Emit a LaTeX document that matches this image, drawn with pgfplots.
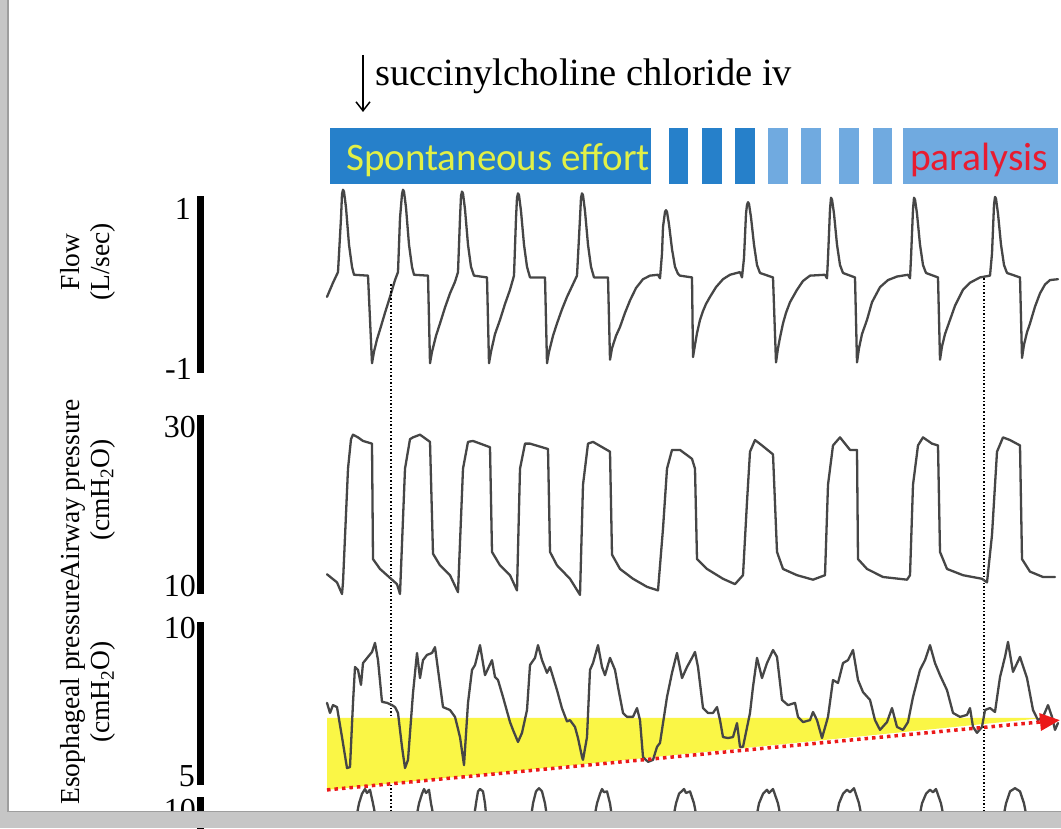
\documentclass[border=0pt]{standalone}
\usepackage{fontspec}
\setmainfont{Liberation Serif}
\newfontfamily\carlito{Carlito}
\usepackage{pgfplots}
\pgfplotsset{compat=1.18}
\usetikzlibrary{arrows.meta}

\definecolor{darkblue}{RGB}{38,128,202}
\definecolor{lightblue}{RGB}{112,170,224}
\definecolor{spontyellow}{RGB}{226,240,70}
\definecolor{parared}{RGB}{232,28,48}
\definecolor{hlyellow}{RGB}{250,246,70}
\definecolor{arrowred}{RGB}{235,25,25}
\definecolor{tracegray}{RGB}{70,70,70}
\definecolor{framegray}{RGB}{198,198,198}

\pgfplotsset{
  panel/.style={scale only axis, anchor=south west, width=861pt,
    xmin=200, xmax=1061, axis x line=none, axis y line=left,
    y axis line style={line width=7pt,-}, xtick=\empty, ytick=\empty, clip=false},
  trace/.style={color=tracegray, line width=2.3pt, line join=round, line cap=round, mark=none},
}

\begin{document}
\begin{tikzpicture}[x=1pt,y=1pt]
\useasboundingbox (0,0) rectangle (1061,828);
\clip (0,0) rectangle (1061,828);
\fill[white] (0,0) rectangle (1061,828);

% drug marker
\draw[line width=1.5pt, -{Straight Barb[length=9pt,width=14pt]}] (363,773) -- (363,716);
\node[anchor=base west, inner sep=0, font=\fontsize{38.5}{40}\selectfont] at (375,742) {succinylcholine chloride iv};

% phase bar
\fill[darkblue] (330,644) rectangle (651,700);
\fill[darkblue] (669,644) rectangle (688,700);
\fill[darkblue] (702,644) rectangle (722,700);
\fill[darkblue] (735,644) rectangle (755,700);
\fill[lightblue] (768,644) rectangle (788,700);
\fill[lightblue] (801,644) rectangle (821,700);
\fill[lightblue] (839,644) rectangle (859,700);
\fill[lightblue] (873,644) rectangle (892,700);
\fill[lightblue] (903,644) rectangle (1058,700);
\node[anchor=base west, inner sep=0, text=spontyellow, font=\carlito\fontsize{39}{40}\selectfont] at (346,657) {Spontaneous effort};
\node[anchor=base west, inner sep=0, text=parared, font=\carlito\fontsize{39.5}{40}\selectfont] at (910,657) {paralysis};

% flow
\begin{axis}[panel, at={(200pt,455pt)}, height=177pt, ymin=-1, ymax=1]
\addplot[trace] coordinates {
(327,-0.14) (333,0.02) (338,0.14) (341,0.75) (342,1.02) (343,1.07) (344,1.05) (346,0.87) (349,0.45) (352,0.2) (354,0.11) (368,0.10) (372,-0.89) (374,-0.76) (377,-0.62) (380,-0.51) (385,-0.32) (390,-0.14) (395,0.05) (398,0.14)
(400,0.75) (402,1.02) (403,1.07) (404,1.05) (406,0.87) (409,0.45) (412,0.2) (414,0.11) (428,0.10) (430,-0.89) (432,-0.76) (436,-0.58) (440,-0.44) (445,-0.26) (450,-0.10) (455,0.03) (458,0.14)
(460,0.75) (461,1.0) (462,1.05) (463,1.03) (465,0.85) (468,0.45) (471,0.2) (474,0.10) (487,0.08) (489,-0.89) (491,-0.76) (495,-0.56) (500,-0.40) (505,-0.22) (510,-0.06) (514,0.10)
(516,0.75) (517,0.98) (518,1.03) (519,1.01) (521,0.83) (524,0.45) (527,0.2) (530,0.08) (545,0.08) (547,-0.89) (549,-0.76) (553,-0.58) (557,-0.44) (562,-0.28) (567,-0.14) (572,-0.02) (577,0.10)
(580,0.75) (581,0.98) (582,1.03) (583,1.01) (585,0.83) (588,0.45) (591,0.2) (594,0.08) (608,0.08) (610,-0.85) (612,-0.72) (616,-0.58) (620,-0.48) (625,-0.32) (630,-0.18) (636,-0.04) (643,0.06) (650,0.10) (658,0.11) (660,0.07) (662,0.35)
(663,0.65) (665,0.82) (666,0.84) (667,0.82) (669,0.68) (672,0.40) (675,0.2) (678,0.12) (680,0.10) (692,0.08) (693,-0.82) (695,-0.68) (697,-0.55) (700,-0.40) (703,-0.30) (706,-0.22) (710,-0.14) (716,-0.03) (723,0.06) (730,0.11) (740,0.14) (742,0.08) (744,0.30)
(746,0.80) (747,0.90) (748,0.93) (749,0.91) (751,0.76) (754,0.45) (757,0.22) (760,0.13) (773,0.08) (776,-0.88) (778,-0.72) (780,-0.60) (783,-0.44) (786,-0.32) (790,-0.20) (797,-0.06) (803,0.04) (810,0.10) (825,0.11) (827,0.07) (828,0.30)
(830,0.85) (831,0.98) (832,0.96) (834,0.8) (837,0.45) (840,0.22) (843,0.13) (855,0.08) (857,-0.88) (859,-0.72) (862,-0.56) (867,-0.40) (872,-0.20) (880,-0.03) (888,0.05) (897,0.09) (908,0.11) (910,0.07) (911,0.30)
(913,0.85) (914,0.98) (915,0.96) (917,0.8) (920,0.45) (923,0.22) (926,0.13) (938,0.08) (940,-0.85) (942,-0.70) (945,-0.56) (950,-0.40) (955,-0.24) (963,-0.06) (970,0.02) (980,0.08) (990,0.10) (992,0.35)
(994,0.9) (995,0.99) (996,0.97) (998,0.8) (1001,0.45) (1004,0.22) (1007,0.13) (1020,0.08) (1022,-0.83) (1024,-0.68) (1027,-0.54) (1030,-0.44) (1035,-0.25) (1040,-0.10) (1045,0.0) (1050,0.05) (1058,0.06)
};
\addplot[black, line width=1.5pt, dash pattern=on 1.5pt off 2pt] coordinates {(391,0.0) (391,-6.0)};
\addplot[black, line width=1.5pt, dash pattern=on 1.5pt off 2pt] coordinates {(984,0.07) (984,-6.0)};
\end{axis}

% airway pressure
\begin{axis}[panel, at={(200pt,234pt)}, height=179pt, ymin=10, ymax=30]
\addplot[trace] coordinates {
(327,12.2) (337,11.3) (342,10.0) (343,11.3) (348,24.0) (351,27.3) (353,27.8) (358,27.5) (363,27.1) (372,26.8) (373,13.9) (380,12.8) (387,12.1) (397,11.1) (400,10.0)
(405,24.0) (410,27.3) (413,27.5) (420,27.8) (430,27.0) (433,14.5) (440,13.2) (450,12.1) (458,10.2)
(463,24.0) (468,27.0) (473,27.1) (490,26.4) (492,14.7) (500,13.2) (510,12.1) (517,10.4)
(520,24.0) (525,26.8) (530,26.8) (548,26.2) (550,14.7) (557,13.2) (570,11.7) (580,9.9)
(583,22.2) (588,26.8) (593,27.0) (610,25.9) (612,14.4) (620,12.8) (633,11.7) (647,10.8) (658,10.4)
(663,17.3) (667,24.0) (672,26.1) (680,26.1) (692,25.1) (695,24.0) (697,13.9) (707,12.8) (723,11.7) (735,11.1) (743,12.1)
(747,20.3) (750,25.9) (755,27.2) (762,26.6) (773,25.6) (777,14.7) (783,12.8) (797,12.1) (813,11.6) (825,12.1)
(828,22.2) (833,26.6) (840,27.5) (850,26.1) (857,26.1) (858,13.9) (867,12.8) (883,11.9) (907,11.6) (910,12.1)
(913,22.2) (918,26.6) (923,27.5) (932,26.8) (938,26.6) (940,14.7) (947,12.8) (963,12.1) (982,11.7) (987,11.3)
(992,16.6) (997,25.9) (1003,27.5) (1010,27.2) (1020,26.6) (1022,13.9) (1030,12.5) (1043,11.9) (1055,11.9)
};
\end{axis}

% esophageal pressure
\begin{axis}[panel, at={(200pt,43pt)}, height=163pt, ymin=5, ymax=10]
\addplot[fill=hlyellow, draw=none] coordinates {(327,7.06) (1045,7.06) (327,4.85)};
\addplot[trace] coordinates {
(327,7.52) (330,7.21) (333,7.45) (337,7.39) (342,6.47) (347,5.52) (350,5.55) (353,7.52) (355,8.62) (358,8.53) (361,8.07) (363,8.74) (368,8.93) (372,9.08) (375,9.36) (378,8.83) (382,7.55) (387,7.52) (392,7.45) (395,7.39) (398,7.21)
(402,6.17) (405,5.52) (408,5.77) (413,7.82) (417,9.05) (420,8.28) (423,8.83) (427,8.99) (432,9.05) (435,9.23) (437,8.77) (443,7.39) (450,7.30) (455,7.09) (460,6.47)
(464,5.61) (468,7.52) (472,8.53) (475,8.68) (480,9.29) (485,8.37) (492,8.83) (495,8.31) (498,8.22) (503,7.70) (510,6.93) (513,6.69) (518,6.32) (522,6.60) (527,7.30)
(530,8.68) (535,8.90) (538,9.29) (542,8.83) (547,8.44) (550,8.62) (557,7.91) (562,7.35) (567,6.95) (570,6.99) (575,6.78) (578,6.44) (582,5.86) (583,5.77) (587,6.47)
(590,8.53) (593,8.74) (598,9.29) (602,8.62) (605,8.37) (610,8.90) (615,8.53) (618,8.01) (623,7.21) (627,7.09) (633,7.09) (637,7.36) (640,6.99) (643,5.86) (648,5.71) (653,5.77) (657,6.17) (660,6.29)
(667,7.70) (672,8.44) (677,9.05) (682,8.28) (687,8.62) (692,8.90) (695,9.08) (698,8.62) (703,7.36) (708,7.21) (713,7.21) (717,7.39) (720,6.99) (723,6.47) (728,6.44) (733,6.47) (737,6.90) (740,6.17) (743,6.17)
(750,7.21) (753,8.01) (757,8.90) (762,8.28) (767,8.74) (773,9.14) (777,8.93) (782,7.61) (788,7.45) (795,7.52) (798,7.09) (803,6.93) (810,6.99)
(813,7.24) (817,6.99) (822,6.44) (828,7.09) (833,8.22) (838,8.13) (843,8.74) (848,8.83) (853,9.14) (858,8.22) (863,7.85) (870,7.61) (875,6.99) (880,6.69) (887,6.93) (892,7.36) (897,6.78) (903,6.69) (908,6.93)
(913,7.70) (920,8.53) (925,8.83) (930,9.29) (935,8.74) (940,8.37) (947,7.91) (953,7.21) (960,7.09) (967,7.15) (970,7.36) (973,6.78) (977,6.60) (982,6.78) (985,7.30) (990,7.36) (995,7.24)
(1000,8.31) (1005,8.93) (1008,9.39) (1013,8.47) (1020,8.93) (1027,8.28) (1033,7.30) (1038,6.99) (1043,7.09) (1048,7.45) (1052,7.09) (1055,6.69) (1058,6.90)
};
\addplot[arrowred, line width=3.5pt, dash pattern=on 3.5pt off 4pt, -{Triangle[length=20pt,width=17pt]}] coordinates {(327,4.85) (1060,6.99)};
\end{axis}

% fourth channel, mostly hidden by the frame
\begin{axis}[panel, at={(200pt,-1pt)}, height=32pt, ymin=8, ymax=10]
\addplot[trace] coordinates {
(327,8.3) (355,8.3) (359,9.6) (362,10.2) (365,10.5) (367,10.25) (370,10.45) (373,9.6) (377,8.3)
(415,8.3) (419,9.6) (422,10.2) (424,10.5) (426,10.25) (429,10.45) (431,9.6) (435,8.3)
(473,8.3) (476,9.6) (478,10.35) (480,10.5) (483,10.35) (485,9.6) (487,8.3)
(530,8.3) (533,9.6) (536,10.35) (539,10.55) (542,10.35) (545,9.6) (548,8.3)
(593,8.3) (597,9.6) (600,10.2) (602,10.5) (604,10.3) (607,10.35) (610,9.6) (613,8.3)
(672,8.3) (676,9.6) (679,10.2) (684,10.5) (686,10.25) (690,10.35) (694,9.6) (698,8.3)
(755,8.3) (759,9.6) (763,10.2) (767,10.45) (769,10.25) (773,10.5) (778,9.6) (782,8.3)
(835,8.3) (839,9.6) (843,10.2) (847,10.45) (850,10.3) (854,10.55) (859,9.6) (863,8.3)
(918,8.3) (922,9.6) (926,10.2) (930,10.45) (933,10.3) (936,10.5) (941,9.6) (945,8.3)
(1002,8.3) (1006,9.6) (1010,10.35) (1015,10.55) (1020,10.35) (1024,9.6) (1028,8.3) (1058,8.3)
};
\end{axis}

% scale labels
\begin{scope}[every node/.style={inner sep=0, font=\fontsize{32}{34}\selectfont}]
\node[anchor=north east] at (191,630) {1};
\node[anchor=south east] at (192,448) {-1};
\node[anchor=north east] at (196,412) {30};
\node[anchor=south east] at (196,231) {10};
\node[anchor=north east] at (196,211) {10};
\node[anchor=south east] at (195,41) {5};
\node[anchor=north east] at (196,29) {10};
\end{scope}

\begin{scope}[every node/.style={inner sep=0, rotate=90, align=center, font=\fontsize{27.5}{30}\selectfont}]
\node at (88,566) {Flow\\(L/sec)};
\node at (88,338) {Airway pressure\\(cmH\textsubscript{2}O)};
\node at (88,136) {Esophageal pressure\\(cmH\textsubscript{2}O)};
\end{scope}

% slide frame
\fill[framegray] (0,0) rectangle (8,828);
\fill[framegray!80!black] (7,17) rectangle (8.5,828);
\fill[framegray] (0,0) rectangle (1061,17);
\fill[framegray!80!black] (7,16) rectangle (1061,17.5);
\end{tikzpicture}
\end{document}
